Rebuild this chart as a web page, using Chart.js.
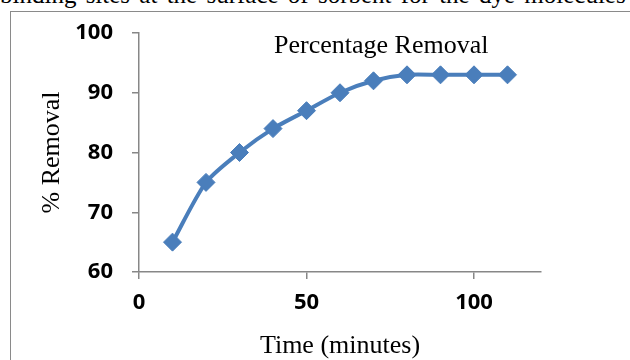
<!DOCTYPE html>
<html>
<head>
<meta charset="utf-8">
<script src="https://cdn.jsdelivr.net/npm/chart.js@4"></script>
<style>
  html, body { margin:0; padding:0; background:#fff; overflow:hidden; width:630px; height:360px; }
  #topText { position:absolute; left:0; top:-18px; font-family:"Liberation Serif","Times New Roman",serif; font-size:25px; line-height:1; white-space:nowrap; word-spacing:3px; color:#000; }
  #frame { position:absolute; left:10px; top:11px; width:700px; height:400px; border:1px solid #8a8a8a; }
  #c { position:absolute; left:0; top:0; }
</style>
</head>
<body>
<div id="topText">binding sites at the surface of sorbent for the dye molecules</div>
<div id="frame"></div>
<canvas id="c" width="630" height="360"></canvas>
<script>
// ---- data ----
const timeMinutes = [10, 20, 30, 40, 50, 60, 70, 80, 90, 100, 110];
const percentRemoval = [65, 75, 80, 84, 87, 90, 92, 93, 93, 93, 93];
const xTickValues = [0, 50, 100];
const yTickValues = [60, 70, 80, 90, 100];
const seriesName = 'Percentage Removal';
const xTitle = 'Time (minutes)';
const yTitle = '% Removal';

const blue = '#4A7EBB';
const axisGray = '#878787';
const serif = '"Liberation Serif", "Times New Roman", serif';
const tickFont = { family: '"Open Sans", "Noto Sans", sans-serif', size: 22, weight: 'bold' };

const seriesLabelPlugin = {
  id: 'seriesLabel',
  afterDraw(chart) {
    const ctx = chart.ctx;
    ctx.save();
    ctx.font = '26px ' + serif;
    ctx.fillStyle = '#000';
    ctx.textBaseline = 'alphabetic';
    ctx.textAlign = 'left';
    ctx.fillText(seriesName, 274, 53);
    ctx.restore();
  }
};

new Chart(document.getElementById('c'), {
  type: 'line',
  data: {
    datasets: [{
      label: seriesName,
      data: timeMinutes.map((t, i) => ({ x: t, y: percentRemoval[i] })),
      borderColor: blue,
      backgroundColor: blue,
      borderWidth: 4,
      tension: 0.25,
      pointStyle: 'rectRot',
      pointRadius: 9,
      pointBorderWidth: 1,
      pointBackgroundColor: blue,
      pointBorderColor: blue,
      fill: false
    }]
  },
  options: {
    responsive: false,
    animation: false,
    devicePixelRatio: 1,
    layout: { padding: { left: 0, right: 89, top: 33, bottom: 0 } },
    plugins: { legend: { display: false }, tooltip: { enabled: false }, title: { display: false } },
    scales: {
      x: {
        type: 'linear',
        min: 0, max: 120,
        afterBuildTicks: s => { s.ticks = xTickValues.map(v => ({ value: v })); },
        afterFit: s => { s.height = 88; },
        grid: { display: true, drawOnChartArea: false, drawTicks: true, tickLength: 7, color: axisGray, lineWidth: 1.5 },
        border: { display: true, color: axisGray, width: 1.5 },
        ticks: { font: tickFont, color: '#000', padding: 11, maxRotation: 0 },
        title: { display: true, text: xTitle, color: '#000', font: { family: serif, size: 26 }, padding: { top: 0, bottom: -2 } }
      },
      y: {
        type: 'linear',
        min: 60, max: 100,
        afterBuildTicks: s => { s.ticks = yTickValues.map(v => ({ value: v })); },
        afterFit: s => { s.width = 139; },
        grid: { display: true, drawOnChartArea: false, drawTicks: true, tickLength: 7, color: axisGray, lineWidth: 1.5 },
        border: { display: true, color: axisGray, width: 1.5 },
        ticks: { font: tickFont, color: '#000', padding: 19 },
        title: { display: true, text: yTitle, color: '#000', font: { family: serif, size: 26 }, padding: { top: 37, bottom: 0 } }
      }
    }
  },
  plugins: [seriesLabelPlugin]
});
</script>
</body>
</html>
